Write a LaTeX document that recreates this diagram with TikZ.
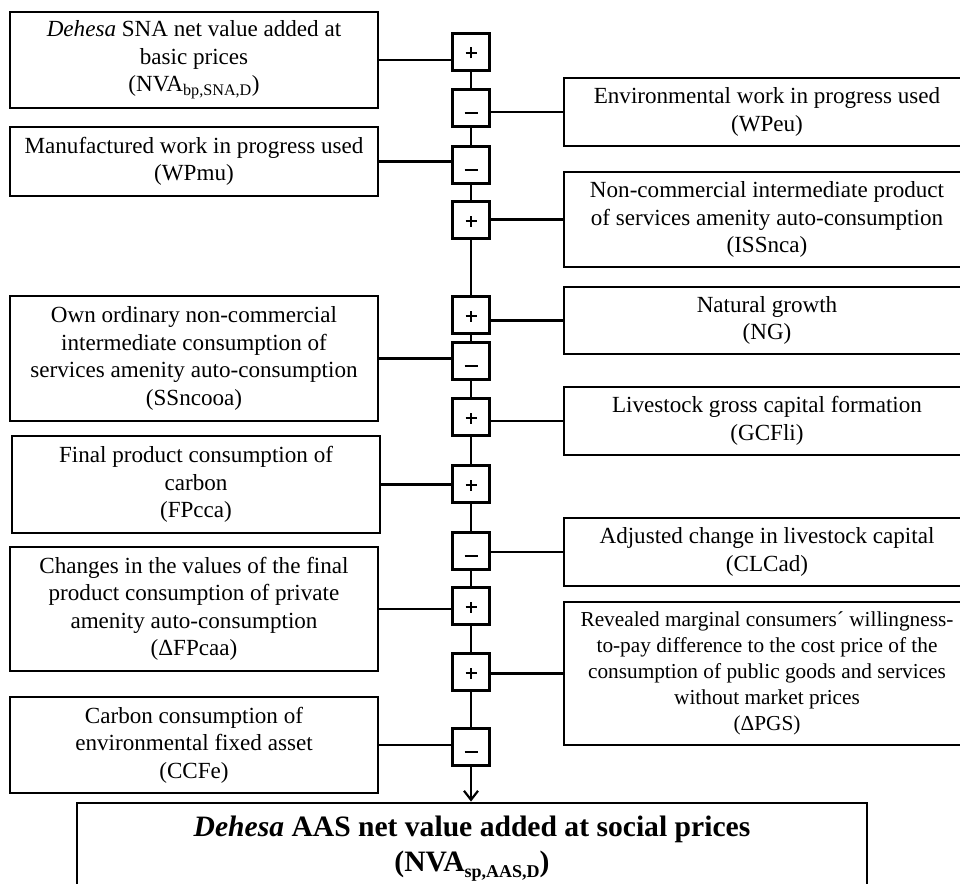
\documentclass[tikz,border=0pt]{standalone}
\usepackage{fontspec}
\setmainfont{Liberation Serif}
\usetikzlibrary{arrows.meta}
\begin{document}
\begin{tikzpicture}[x=1pt,y=-1pt,
  item/.style={draw,line width=2.6pt,align=center,inner sep=0pt,
    font=\fontsize{23.1}{27.5}\selectfont},
  leftbox/.style={item,minimum width=368pt},
  rightbox/.style={item,minimum width=406pt},
  sign/.style={draw,line width=2.6pt,fill=white,minimum width=37pt,minimum height=37pt,
    inner sep=0pt},
  plussign/.style={sign,path picture={
    \draw[line width=1.2pt] ([xshift=-5.5pt,yshift=-1pt]path picture bounding box.center) -- ++(11pt,0pt);
    \draw[line width=1.2pt] ([yshift=-6.5pt]path picture bounding box.center) -- ++(0pt,11pt);}},
  minussign/.style={sign,path picture={
    \draw[line width=2.6pt] ([xshift=-6.5pt,yshift=-5pt]path picture bounding box.center) -- ++(13pt,0pt);}},
  link/.style={line width=2.5pt},
  result/.style={draw,line width=2.8pt,align=center,inner sep=0pt,
    font=\fontsize{29.6}{31.5}\selectfont\bfseries}]
\useasboundingbox (0,0) rectangle (960,883);
\clip (0,0) rectangle (960,883);

% sign boxes along the central spine
\node[plussign]  (s1)  at (471,52)  {};
\node[minussign] (s2)  at (471,108) {};
\node[minussign] (s3)  at (471,165) {};
\node[plussign]  (s4)  at (471,220) {};
\node[plussign]  (s5)  at (471,315) {};
\node[minussign] (s6)  at (471,361) {};
\node[plussign]  (s7)  at (471,417) {};
\node[plussign]  (s8)  at (471,484) {};
\node[minussign] (s9)  at (471,551) {};
\node[plussign]  (s10) at (471,606) {};
\node[plussign]  (s11) at (471,672) {};
\node[minussign] (s12) at (471,747) {};

% left-hand items
\node[leftbox,minimum height=96pt] (l1) at (194,60)
  {\textit{Dehesa} SNA net value added at\\basic prices\\(NVA\textsubscript{bp,SNA,D})};
\node[leftbox,minimum height=69pt] (l2) at (194,161.5)
  {Manufactured work in progress used\\(WPmu)};
\node[leftbox,minimum height=125pt] (l3) at (194,358.5)
  {Own ordinary non-commercial\\intermediate consumption of\\services amenity auto-consumption\\(SSncooa)};
\node[leftbox,minimum height=97pt] (l4) at (196,484.5)
  {Final product consumption of\\carbon\\(FPcca)};
\node[leftbox,minimum height=124pt] (l5) at (194,609)
  {Changes in the values of the final\\product consumption of private\\amenity auto-consumption\\(ΔFPcaa)};
\node[leftbox,minimum height=96pt] (l6) at (194,745)
  {Carbon consumption of\\environmental fixed asset\\(CCFe)};

% right-hand items
\node[rightbox,minimum height=68pt] (r1) at (767,112)
  {Environmental work in progress used\\(WPeu)};
\node[rightbox,minimum height=95pt] (r2) at (767,219.5)
  {Non-commercial intermediate product\\of services amenity auto-consumption\\(ISSnca)};
\node[rightbox,minimum height=67pt] (r3) at (767,320.5)
  {Natural growth\\(NG)};
\node[rightbox,minimum height=68pt] (r4) at (767,421)
  {Livestock gross capital formation\\(GCFli)};
\node[rightbox,minimum height=68pt] (r5) at (767,552)
  {Adjusted change in livestock capital\\(CLCad)};
\node[rightbox,minimum height=143pt,font=\fontsize{21.3}{26}\selectfont] (r6) at (767,673.5)
  {Revealed marginal consumers´ willingness-\\to-pay difference to the cost price of the\\consumption of public goods and services\\without market prices\\(ΔPGS)};

% resulting aggregate
\node[result,minimum width=790pt,minimum height=88pt] (res) at (472,847)
  {\textit{Dehesa} AAS net value added at social prices\\[3pt](NVA\smash{\raisebox{-6pt}{\fontsize{18}{18}\selectfont sp,AAS,D}})};

% spine
\foreach \a/\b in {s1/s2,s2/s3,s3/s4,s4/s5,s5/s6,s6/s7,s7/s8,s8/s9,s9/s10,s10/s11,s11/s12}
  \draw[link] (\a) -- (\b);
\draw[link,-{Straight Barb[length=9pt,width=14pt,line width=2.2pt]}]
  (s12.south) -- (s12.south |- res.north);

% side connectors
\foreach \l/\s in {l1/s1,l2/s3,l3/s6,l4/s8,l5/s10,l6/s12}
  \draw[link] (\l.east) -- (\l.east -| \s.west);
\foreach \r/\s in {r1/s2,r2/s4,r3/s5,r4/s7,r5/s9,r6/s11}
  \draw[link] (\r.west) -- (\r.west -| \s.east);
\end{tikzpicture}
\end{document}
